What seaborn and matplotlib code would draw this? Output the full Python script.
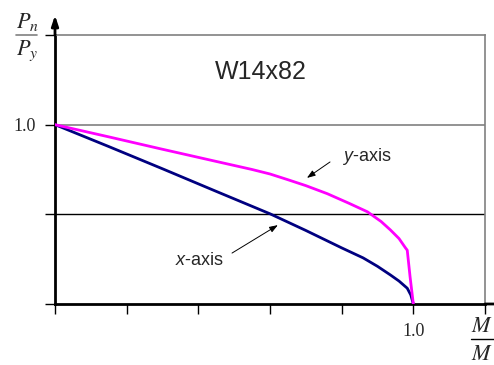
import seaborn as sns
import matplotlib.pyplot as plt
from matplotlib.lines import Line2D

# interaction curves (M/Mp, Pn/Py)
x_axis_m = [0, 0.15, 0.30, 0.45, 0.60, 0.70, 0.80, 0.86, 0.90, 0.936, 0.96, 0.983, 0.993, 1.0]
x_axis_p = [1.0, 0.878, 0.754, 0.628, 0.503, 0.41, 0.313, 0.257, 0.21, 0.162, 0.128, 0.088, 0.05, 0]
y_axis_m = [0, 0.15, 0.293, 0.45, 0.55, 0.60, 0.65, 0.70, 0.76, 0.82, 0.872, 0.91, 0.936,
            0.96, 0.978, 0.983, 0.991, 1.0]
y_axis_p = [1.0, 0.932, 0.866, 0.795, 0.75, 0.725, 0.693, 0.66, 0.615, 0.562, 0.514, 0.46,
            0.413, 0.365, 0.313, 0.30, 0.15, 0]

xticks = [0, 0.2, 0.4, 0.6, 0.8, 1.0, 1.2]
xticklabels = ['', '', '', '', '', '1.0', '']
yticks = [0, 0.5, 1.0, 1.5]
yticklabels = ['', '', '1.0', '']

sns.set_style('white')
plt.rcParams['mathtext.fontset'] = 'custom'
plt.rcParams['mathtext.it'] = 'Liberation Sans:italic'
plt.rcParams['mathtext.rm'] = 'Liberation Sans'
plt.rcParams['font.family'] = ['Liberation Sans', 'DejaVu Sans']

fig = plt.figure(figsize=(4.94, 3.65), dpi=100)
ax = fig.add_axes([55 / 494, 61 / 365, 430 / 494, 269 / 365])

ax.axhline(1.0, color='#808080', lw=1.2, zorder=1)
ax.axhline(0.5, color='black', lw=1.0, zorder=1)

sns.lineplot(x=x_axis_m, y=x_axis_p, color='#000080', lw=2.0, sort=False,
             estimator=None, ax=ax, zorder=3)
sns.lineplot(x=y_axis_m, y=y_axis_p, color='#FF00FF', lw=2.0, sort=False,
             estimator=None, ax=ax, zorder=3)

ax.set_xlim(0, 1.2)
ax.set_ylim(0, 1.5)
ax.set_xticks(xticks)
ax.set_xticklabels(xticklabels, fontfamily='Liberation Serif', fontsize=13)
ax.set_yticks(yticks)
ax.set_yticklabels(yticklabels, fontfamily='Liberation Serif', fontsize=13)
ax.tick_params(axis='both', direction='out', length=7, width=1, color='black', pad=7,
               bottom=True, left=True)
ax.yaxis.get_major_ticks()[2].tick1line.set_color('#808080')
ax.yaxis.get_major_ticks()[3].tick1line.set_color('#808080')
ax.xaxis.get_major_ticks()[6].tick1line.set_color('#808080')

for s in ['left', 'bottom']:
    ax.spines[s].set_color('black')
    ax.spines[s].set_linewidth(2)
for s in ['top', 'right']:
    ax.spines[s].set_color('#808080')
    ax.spines[s].set_linewidth(1.2)

# axis arrow and extension
ax.annotate('', xy=(0, 1.61), xytext=(0, 1.5), annotation_clip=False,
            arrowprops=dict(arrowstyle='-|>,head_length=0.6,head_width=0.2',
                            lw=2, color='black', shrinkA=0, shrinkB=0))
ax.annotate('', xy=(1.235, 0), xytext=(1.2, 0), annotation_clip=False,
            arrowprops=dict(arrowstyle='-', lw=2, color='black', shrinkA=0, shrinkB=0))

ax.text(0.575, 1.294, 'W14x82', fontsize=18, ha='center', va='center')

ax.text(0.801, 0.82, r'$y$-axis', fontsize=13, ha='left', va='center')
ax.annotate('', xy=(0.703, 0.703), xytext=(0.7675, 0.792),
            arrowprops=dict(arrowstyle='-|>,head_length=0.5,head_width=0.18',
                            lw=0.7, color='black', shrinkA=0, shrinkB=0))
ax.text(0.335, 0.245, r'$x$-axis', fontsize=13, ha='left', va='center')
ax.annotate('', xy=(0.622, 0.44), xytext=(0.494, 0.284),
            arrowprops=dict(arrowstyle='-|>,head_length=0.5,head_width=0.18',
                            lw=0.7, color='black', shrinkA=0, shrinkB=0))

# fraction labels
def fx(px):
    return px / 494

def fy(py):
    return 1 - py / 365

fig.text(fx(27), fy(22), r'$P_n$', fontsize=16, ha='center', va='center', math_fontfamily='stix')
fig.text(fx(27), fy(51), r'$P_y$', fontsize=16, ha='center', va='center', math_fontfamily='stix')
fig.add_artist(Line2D([fx(16), fx(37)], [fy(35), fy(35)], color='#808080', lw=1.2))

fig.text(fx(482), fy(326), r'$M$', fontsize=16, ha='center', va='center', math_fontfamily='stix')
fig.text(fx(482), fy(354), r'$M$', fontsize=16, ha='center', va='center', math_fontfamily='stix')
fig.add_artist(Line2D([fx(471), fx(494)], [fy(339), fy(339)], color='black', lw=1.0))

fig.savefig('out.png', dpi=100)
